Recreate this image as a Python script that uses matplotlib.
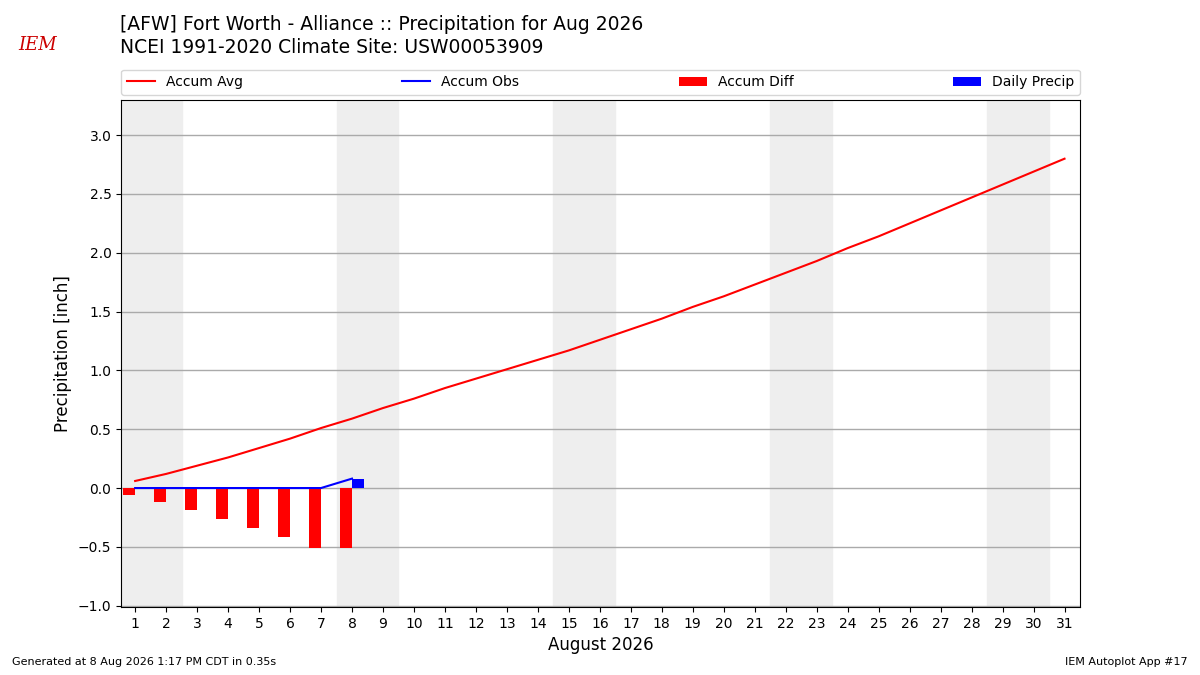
import matplotlib.pyplot as plt

# ============================================================================
# Data
# ============================================================================

days = list(range(1, 32))

accum_avg = [
    0.06, 0.12, 0.19, 0.26, 0.34, 0.42, 0.51, 0.59, 0.68, 0.76,
    0.85, 0.93, 1.01, 1.09, 1.17, 1.26, 1.35, 1.44, 1.54, 1.63,
    1.73, 1.83, 1.93, 2.04, 2.14, 2.25, 2.36, 2.47, 2.58, 2.69, 2.80,
]

obs_days = [1, 2, 3, 4, 5, 6, 7, 8]
accum_obs = [0.0, 0.0, 0.0, 0.0, 0.0, 0.0, 0.0, 0.08]
daily_precip = [0.0, 0.0, 0.0, 0.0, 0.0, 0.0, 0.0, 0.08]
accum_diff = [-0.06, -0.12, -0.19, -0.26, -0.34, -0.42, -0.51, -0.51]

weekend_starts = [1, 8, 15, 22, 29]

# ============================================================================
# Plot
# ============================================================================

fig = plt.figure(figsize=(12, 6.75), dpi=100)
ax = fig.add_axes([0.101, 0.101, 0.799, 0.751])

for start in weekend_starts:
    ax.axvspan(start - 0.5, start + 1.5, color="#eeeeee", zorder=0)

ax.bar(obs_days, accum_diff, width=-0.4, align="edge", color="r",
       label="Accum Diff", zorder=2)
ax.bar(obs_days, daily_precip, width=0.4, align="edge", color="b",
       label="Daily Precip", zorder=2)
ax.plot(days, accum_avg, color="r", linewidth=1.5, label="Accum Avg", zorder=3)
ax.plot(obs_days, accum_obs, color="b", linewidth=1.5, label="Accum Obs", zorder=3)

ax.set_xlim(0.55, 31.5)
ax.set_ylim(-1.01, 3.3)
ax.set_xticks(days)
ax.set_yticks([-1.0, -0.5, 0.0, 0.5, 1.0, 1.5, 2.0, 2.5, 3.0])
ax.yaxis.grid(True, color="#aaaaaa", linewidth=1)
ax.set_axisbelow(True)
ax.set_xlabel("August 2026", fontsize=12)
ax.set_ylabel("Precipitation [inch]", fontsize=12)

handles, labels = ax.get_legend_handles_labels()
order = [labels.index(n) for n in ["Accum Avg", "Accum Obs", "Accum Diff", "Daily Precip"]]
ax.legend([handles[i] for i in order], [labels[i] for i in order],
          loc="lower left", bbox_to_anchor=(0.0, 1.01, 1.0, 0.05),
          ncol=4, mode="expand", borderaxespad=0, fontsize=10)

fig.text(0.1, 0.963, "[AFW] Fort Worth - Alliance :: Precipitation for Aug 2026",
         fontsize=13.5, va="center")
fig.text(0.1, 0.929, "NCEI 1991-2020 Climate Site: USW00053909",
         fontsize=13.5, va="center")

# logo stand-in
fig.text(0.031, 0.933, "IEM", color="#cc0000", fontsize=13, family="serif",
         style="italic", ha="center", va="center")

fig.text(0.01, 0.015, "Generated at 8 Aug 2026 1:17 PM CDT in 0.35s", fontsize=8)
fig.text(0.99, 0.015, "IEM Autoplot App #17", fontsize=8, ha="right")

fig.savefig("out.png", dpi=100)
plt.close(fig)
